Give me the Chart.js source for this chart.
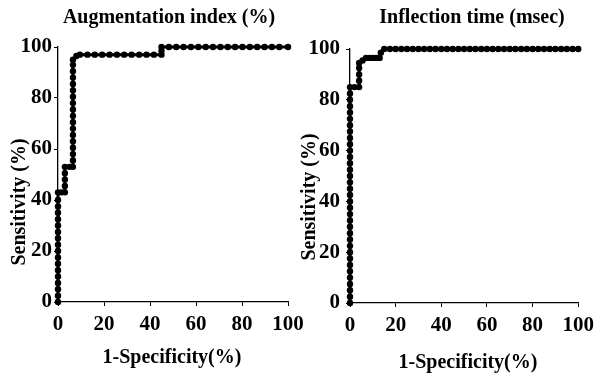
<!DOCTYPE html>
<html>
<head>
<meta charset="utf-8">
<script src="https://cdn.jsdelivr.net/npm/chart.js@4/dist/chart.umd.min.js"></script>
<style>
    html, body { margin: 0; padding: 0; background: #fff; }
    #wrap { position: relative; width: 600px; height: 378px; overflow: hidden; }
    canvas { position: absolute; top: 0; }
    #augChart { left: 0; }
    #infChart { left: 290px; }
</style>
</head>
<body>
<div id="wrap">
    <canvas id="augChart" width="320" height="378"></canvas>
    <canvas id="infChart" width="310" height="378"></canvas>
</div>
<script>
// tick labels (both axes, both panels)
const tickValues = [0, 20, 40, 60, 80, 100];

// Augmentation index (%) ROC: 1-specificity and sensitivity
const augFpr = [
    0, 0, 0, 0, 0, 0, 0, 0, 0, 0, 0, 0, 0, 0, 0, 0, 0, 0,
    1.5, 3,
    3, 3, 3, 3,
    5, 6.5,
    6.5, 6.5, 6.5, 6.5, 6.5, 6.5, 6.5, 6.5, 6.5, 6.5, 6.5, 6.5, 6.5, 6.5, 6.5, 6.5, 6.5,
    8, 9.5,
    12.8, 16, 19.2, 22.4, 25.6, 28.8, 32, 35.3, 38.5, 41.7, 45,
    45, 45,
    48.2, 51.4, 54.6, 57.8, 61, 64.2, 67.4, 70.6, 73.8, 77, 80.2, 83.4, 86.6, 89.8, 93, 96.2, 100
];
const augSens = [
    0, 2.5, 5, 7.5, 10, 12.5, 15, 17.5, 20, 22.5, 25, 27.5, 30, 32.5, 35, 37.5, 40, 43,
    43, 43,
    45.5, 48, 50.5, 53,
    53, 53,
    55.5, 58, 60.5, 63, 65.5, 68, 70.5, 73, 75.5, 78, 80.5, 83, 85.5, 88, 90.5, 93, 95,
    96.5, 97,
    97, 97, 97, 97, 97, 97, 97, 97, 97, 97, 97,
    98.5, 100,
    100, 100, 100, 100, 100, 100, 100, 100, 100, 100, 100, 100, 100, 100, 100, 100, 100
];

// Inflection time (msec) ROC
const infFpr = [
    0, 0, 0, 0, 0, 0, 0, 0, 0, 0, 0, 0, 0, 0, 0, 0, 0, 0,
    0, 0, 0, 0, 0, 0, 0, 0, 0, 0, 0, 0, 0, 0, 0, 0, 0,
    2, 4,
    4, 4, 4, 4,
    5.5, 7, 8.5, 10, 11.5, 13,
    13.5,
    15, 17.5, 20, 22.5, 25, 27.5, 30, 32.5, 35, 37.5, 40, 42.5, 45, 47.5, 50, 52.5, 55,
    57.5, 60, 62.5, 65, 67.5, 70, 72.5, 75, 77.5, 80, 82.5, 85, 87.5, 90, 92.5, 95, 97.5, 100
];
const infSens = [
    0, 2.5, 5, 7.5, 10, 12.5, 15, 17.5, 20, 22.5, 25, 27.5, 30, 32.5, 35, 37.5, 40, 42.5,
    45, 47.5, 50, 52.5, 55, 57.5, 60, 62.5, 65, 67.5, 70, 72.5, 75, 77.5, 80, 82.5, 85,
    85, 85,
    87.5, 90, 92.5, 94.5,
    95.5, 96.5, 96.5, 96.5, 96.5, 96.5,
    98.5,
    100, 100, 100, 100, 100, 100, 100, 100, 100, 100, 100, 100, 100, 100, 100, 100, 100,
    100, 100, 100, 100, 100, 100, 100, 100, 100, 100, 100, 100, 100, 100, 100, 100, 100, 100
];

const serif = '"Liberation Serif", "Times New Roman", serif';

const panelTitles = {
    id: 'panelTitles',
    afterDraw(chart, args, o) {
        const ctx = chart.ctx;
        ctx.save();
        ctx.fillStyle = '#000';
        ctx.font = 'bold 20px ' + serif;
        ctx.textAlign = 'center';
        ctx.textBaseline = 'middle';
        ctx.fillText(o.title, o.titleX, o.titleY);
        ctx.fillText(o.xTitle, o.xTitleX, o.xTitleY);
        ctx.translate(o.yTitleX, o.yTitleY);
        ctx.rotate(-Math.PI / 2);
        ctx.fillText(o.yTitle, 0, 0);
        ctx.restore();
    }
};

function axisOpts(fitFn, pad) {
    return {
        type: 'linear',
        min: 0,
        max: 100,
        afterBuildTicks: function (scale) {
            scale.ticks = tickValues.map(function (v) { return { value: v }; });
        },
        afterFit: fitFn,
        grid: { display: true, drawOnChartArea: false, drawTicks: true, tickLength: 4, color: '#000' },
        border: { display: true, color: '#000', width: 1.3 },
        ticks: {
            color: '#000',
            padding: pad,
            maxRotation: 0,
            autoSkip: false,
            font: { family: serif, size: 21, weight: 'bold' }
        }
    };
}

function makeRocChart(canvasId, xs, ys, box, titles) {
    const points = xs.map(function (x, i) { return { x: x, y: ys[i] }; });
    return new Chart(document.getElementById(canvasId), {
        type: 'line',
        data: {
            datasets: [{
                data: points,
                borderColor: '#000',
                borderWidth: 3,
                pointRadius: 3.2,
                pointBackgroundColor: '#000',
                pointBorderWidth: 0,
                tension: 0,
                clip: false
            }]
        },
        options: {
            responsive: false,
            animation: false,
            devicePixelRatio: 1,
            layout: { padding: { top: box.top, right: box.right, bottom: 0, left: 0 } },
            plugins: {
                legend: { display: false },
                tooltip: { enabled: false },
                panelTitles: titles
            },
            scales: {
                x: axisOpts(function (s) { s.height = 378 - box.bottom; }, 6),
                y: axisOpts(function (s) { s.width = box.left; }, box.yPad)
            }
        },
        plugins: [panelTitles]
    });
}

makeRocChart('augChart', augFpr, augSens,
    { top: 47, bottom: 302, left: 58, right: 32, yPad: 2 },
    {
        title: 'Augmentation index (%)', titleX: 169, titleY: 18,
        xTitle: '1-Specificity(%)', xTitleX: 172, xTitleY: 358,
        yTitle: 'Sensitivity (%)', yTitleX: 20, yTitleY: 202
    });

makeRocChart('infChart', infFpr, infSens,
    { top: 49, bottom: 303, left: 60, right: 20, yPad: 6 },
    {
        title: 'Inflection time (msec)', titleX: 182, titleY: 18,
        xTitle: '1-Specificity(%)', xTitleX: 178, xTitleY: 363,
        yTitle: 'Sensitivity (%)', yTitleX: 20, yTitleY: 197
    });
</script>
</body>
</html>
